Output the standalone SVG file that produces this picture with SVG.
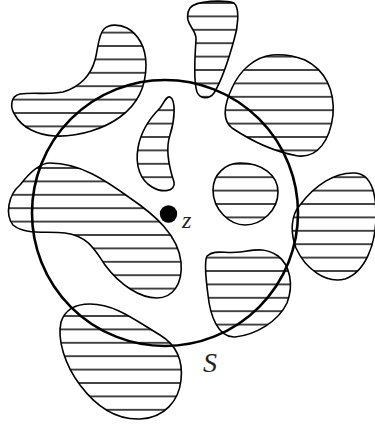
<svg xmlns="http://www.w3.org/2000/svg" width="375" height="428" viewBox="0 0 375 428">
<style>
.blob{stroke:#000;stroke-width:1.6;stroke-linejoin:round}
.hl{stroke:#000;stroke-width:1.5}
.circ{fill:none;stroke:#000;stroke-width:2.6}
.lbl{font-family:"Liberation Serif",serif;font-style:italic;fill:#222}
</style>
<defs>
<pattern id="h1" patternUnits="userSpaceOnUse" width="375" height="13.4" patternTransform="translate(0,9.7)"><line class="hl" x1="0" y1="6.7" x2="375" y2="6.7"/></pattern>
<pattern id="hA" patternUnits="userSpaceOnUse" width="375" height="13.4" patternTransform="translate(0,12.5)"><line class="hl" x1="0" y1="6.7" x2="375" y2="6.7"/></pattern>
<pattern id="hH" patternUnits="userSpaceOnUse" width="375" height="13.4" patternTransform="translate(0,0.5)"><line class="hl" x1="0" y1="6.7" x2="375" y2="6.7"/></pattern>
<pattern id="hI" patternUnits="userSpaceOnUse" width="375" height="13.4" patternTransform="translate(0,1.1)"><line class="hl" x1="0" y1="6.7" x2="375" y2="6.7"/></pattern>
</defs>
<rect width="375" height="428" fill="#fff"/>
<g id="blobA"><path class="blob" fill="url(#hA)" d="M104,29 C98,35 98,50 95,60 C91,75 80,87 63,92 C48,95 35,92 20,94 C10,96 10,108 15,115 C22,128 38,135 55,136 C80,137 105,128 120,117 C138,104 146,85 146,65 C146,47 138,34 127,28 C119,24 109,24 104,29 Z"/></g>
<g id="blobB"><path class="blob" fill="url(#h1)" d="M190,8 C196,0 225,0 234,3 C240,8 238,28 234,40 C229,58 222,80 214,93 C209,100 200,99 197,92 C193,80 195,55 196,40 C197,32 190,28 188,20 C187,15 188,11 190,8 Z"/></g>
<g id="blobC"><path class="blob" fill="url(#h1)" d="M272,55 C255,57 240,70 232,88 C224,105 222,120 232,128 C250,140 275,152 298,156 C318,158 330,140 333,115 C335,90 325,70 305,60 C295,56 285,54 272,55 Z"/></g>
<g id="blobD"><path class="blob" fill="url(#h1)" d="M170,97 C176,100 175,120 170,135 C165,150 170,170 174,182 C176,192 162,193 152,187 C140,180 135,165 138,148 C141,130 150,118 160,108 C164,103 166,96 170,97 Z"/></g>
<g id="blobE"><path class="blob" fill="url(#h1)" d="M240,163 C225,163 213,175 213,190 C213,210 230,225 245,225 C262,225 278,210 278,192 C278,175 262,163 240,163 Z"/></g>
<g id="blobF"><path class="blob" fill="url(#h1)" d="M300,205 C315,185 335,172 355,173 C370,174 376,190 376,215 C376,245 365,272 345,279 C325,284 305,268 296,248 C290,232 291,215 300,205 Z"/></g>
<g id="blobG"><path class="blob" fill="url(#h1)" d="M207,256 C215,249 225,254 240,252 C255,250 265,247 278,256 C290,265 294,285 287,303 C278,322 255,335 235,337 C218,338 210,315 208,295 C206,280 204,262 207,256 Z"/></g>
<g id="blobH"><path class="blob" fill="url(#hH)" d="M50,163 C80,163 105,180 130,198 C155,215 178,235 181,262 C183,285 172,298 157,298 C140,298 120,285 105,265 C95,250 88,236 65,233 C45,231 25,235 13,225 C5,215 8,195 20,185 C30,172 40,163 50,163 Z"/></g>
<g id="blobI"><path class="blob" fill="url(#hI)" d="M90,304 C115,304 135,320 160,335 C178,346 183,362 181,380 C179,400 165,418 140,419 C115,420 95,405 80,385 C65,365 57,340 61,322 C65,310 75,304 90,304 Z"/></g>
<g id="circleS"><circle class="circ" cx="165" cy="213" r="133"/></g>
<g id="pointZ"><circle cx="168.5" cy="214" r="8.7" fill="#000"/><text class="lbl" x="182" y="228" font-size="24">z</text></g>
<g id="labelS"><text class="lbl" x="203" y="372" font-size="28">S</text></g>
</svg>
